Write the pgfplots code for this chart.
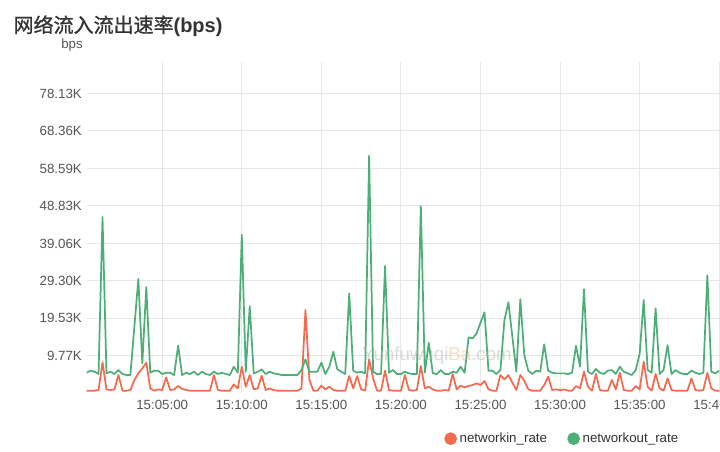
\documentclass[border=0pt]{standalone}
\usepackage{fontspec}
\setmainfont{Liberation Sans}
\newfontfamily\cjk[FakeBold=1]{Noto Sans CJK SC}
\usepackage{pgfplots}
\usepackage{pgfplotstable}
\pgfplotsset{compat=1.18}
\definecolor{ingreen}{HTML}{4DAE78}
\definecolor{inred}{HTML}{F26A4F}
\definecolor{gridgray}{HTML}{E6E6E6}
\definecolor{ticktext}{HTML}{555555}
\definecolor{titletext}{HTML}{333333}
\definecolor{wmgray}{HTML}{B0B0B0}
\definecolor{wmorange}{HTML}{F5B08A}

\pgfplotstableread{
t out in
15 5.37 0.69
30 5.90 0.69
45 5.64 0.69
60 5.03 0.86
75 45.95 8.07
90 5.20 1.03
105 5.64 0.86
120 5.03 1.03
135 6.07 4.77
150 5.03 0.69
165 4.77 0.69
180 4.77 0.86
195 17.28 3.46
210 29.8 5.20
225 7.81 6.51
240 27.7 7.99
255 5.37 1.29
270 5.90 0.69
285 5.90 1.03
300 5.03 0.86
315 5.37 4.16
330 5.37 0.86
345 4.77 1.03
360 12.41 1.91
375 4.77 1.20
390 5.37 0.86
405 5.03 0.69
420 5.64 0.69
435 4.77 0.69
450 5.64 0.69
465 5.03 0.69
480 4.77 0.69
495 5.64 4.77
510 5.03 0.86
525 5.37 0.69
540 5.03 0.69
555 4.77 0.69
570 6.94 2.34
585 5.37 1.29
600 41.3 6.94
615 5.63 1.73
630 22.71 4.77
645 5.20 1.03
660 5.64 1.29
675 6.25 4.60
690 5.03 0.86
705 5.64 1.29
720 5.20 0.86
735 5.03 0.69
750 4.77 0.69
765 4.77 0.69
780 4.77 0.69
795 4.77 0.69
810 4.77 0.69
825 6.07 1.29
840 8.85 21.7
855 5.64 3.46
870 5.64 0.69
885 5.64 0.69
900 7.99 1.99
915 5.03 1.03
930 6.94 1.73
945 10.85 0.86
960 6.25 0.69
975 5.64 0.69
990 5.03 0.69
1005 26.03 4.51
1020 5.90 1.29
1035 5.37 4.51
1050 5.64 1.03
1065 5.20 0.69
1080 61.9 8.85
1095 5.64 3.90
1110 5.03 0.69
1125 5.03 0.69
1140 33.16 5.90
1155 5.37 0.86
1170 6.07 0.69
1185 5.03 0.69
1200 5.03 0.69
1215 5.64 4.77
1230 5.20 0.86
1245 5.03 0.69
1260 5.03 0.86
1275 48.8 7.11
1290 5.37 1.29
1305 13.16 1.73
1320 5.20 1.03
1335 5.03 0.69
1350 6.07 0.69
1365 5.03 0.86
1380 5.03 0.69
1395 5.64 5.03
1410 5.37 1.03
1425 6.94 1.99
1440 5.37 1.55
1455 14.57 1.91
1470 14.32 2.17
1485 15.62 2.60
1500 18.39 2.17
1515 21.10 3.20
1530 5.90 1.03
1545 5.90 0.69
1560 5.03 0.69
1575 6.07 4.77
1590 19.09 3.64
1605 23.72 4.77
1620 14.77 2.77
1635 5.64 0.86
1650 24.52 4.77
1665 9.98 3.29
1680 5.90 1.03
1695 5.03 0.69
1710 5.90 0.69
1725 5.64 0.69
1740 12.76 2.17
1755 5.90 4.34
1770 5.37 0.86
1785 5.20 1.03
1800 5.20 0.86
1815 5.20 1.00
1830 5.03 0.69
1845 5.37 0.69
1860 12.41 1.91
1875 6.94 1.29
1890 27.13 5.64
1905 5.64 1.73
1920 5.03 0.69
1935 6.33 5.03
1950 5.37 0.86
1965 5.03 0.69
1980 5.90 0.69
1995 6.07 3.46
2010 5.03 1.03
2025 6.94 5.37
2040 5.64 0.86
2055 5.20 0.69
2070 4.77 0.69
2085 6.07 1.91
2100 10.42 1.03
2115 24.32 8.24
2130 6.07 1.73
2145 5.37 0.69
2160 22.11 5.03
2175 5.03 1.29
2190 6.07 0.69
2205 12.56 3.90
2220 5.03 0.86
2235 6.07 0.69
2250 5.37 0.69
2265 5.03 0.69
2280 5.03 0.69
2295 5.90 3.90
2310 5.37 0.86
2325 5.03 0.69
2340 5.37 0.86
2355 30.75 5.37
2370 5.64 1.29
2385 5.20 0.69
2400 5.90 0.69
}\ratedata

\begin{document}
\begin{tikzpicture}
\begin{scope}
\clip (0,0) rectangle (540pt,339pt);
\begin{axis}[
  at={(64.95pt,44pt)}, anchor=south west,
  scale only axis, width=474.5pt, height=248.7pt,
  xmin=15, xmax=2400, ymin=0, ymax=86.4,
  axis line style={draw=none},
  tick style={draw=none},
  xtick={300,600,900,1200,1500,1800,2100,2400},
  xticklabels={15:05:00,15:10:00,15:15:00,15:20:00,15:25:00,15:30:00,15:35:00,15:40:00},
  ytick={9.765625,19.53125,29.296875,39.0625,48.828125,58.59375,68.359375,78.125},
  yticklabels={9.77K,19.53K,29.30K,39.06K,48.83K,58.59K,68.36K,78.13K},
  grid=major,
  major grid style={draw=gridgray, line width=0.75pt},
  ticklabel style={font=\fontsize{10pt}{12pt}\selectfont, text=ticktext},
  xticklabel style={anchor=base, yshift=-12.4pt},
  yticklabel style={anchor=east, xshift=0pt},
  legend columns=2,
  legend image code/.code={\fill[#1] (4.1pt,0) circle (4.1pt);},
  legend style={at={(0.5649,-0.1368)}, anchor=west, draw=none, fill=none,
    inner sep=0pt, font=\fontsize{10pt}{12pt}\selectfont, text=titletext,
    /tikz/every even column/.append style={column sep=13.2pt}},
  legend cell align=left,
]
\addplot[color=inred, line width=1.3pt, line join=round, mark=none] table[x=t, y=in] {\ratedata};
\addlegendentry{networkin\_rate}
\addplot[color=ingreen, line width=1.3pt, line join=round, mark=none] table[x=t, y=out] {\ratedata};
\addlegendentry{networkout\_rate}
\end{axis}
\node[anchor=west, inner sep=0pt, text=titletext] at (10pt,319.5pt)
  {\fontsize{15pt}{18pt}\selectfont{\cjk 网络流入流出速率}\textbf{(bps)}};
\node[inner sep=0pt, text=ticktext] at (54pt,305.25pt)
  {\fontsize{10pt}{12pt}\selectfont bps};
\node[anchor=west, inner sep=0pt, text opacity=0.45] at (271.5pt,72pt)
  {\fontsize{14pt}{16pt}\selectfont\textcolor{wmgray}{Yunfuwuqi}\textcolor{wmorange}{Ba}\textcolor{wmgray}{.com}};
\end{scope}
\pgfresetboundingbox
\path[use as bounding box] (0,0) rectangle (540pt,339pt);
\end{tikzpicture}
\end{document}
